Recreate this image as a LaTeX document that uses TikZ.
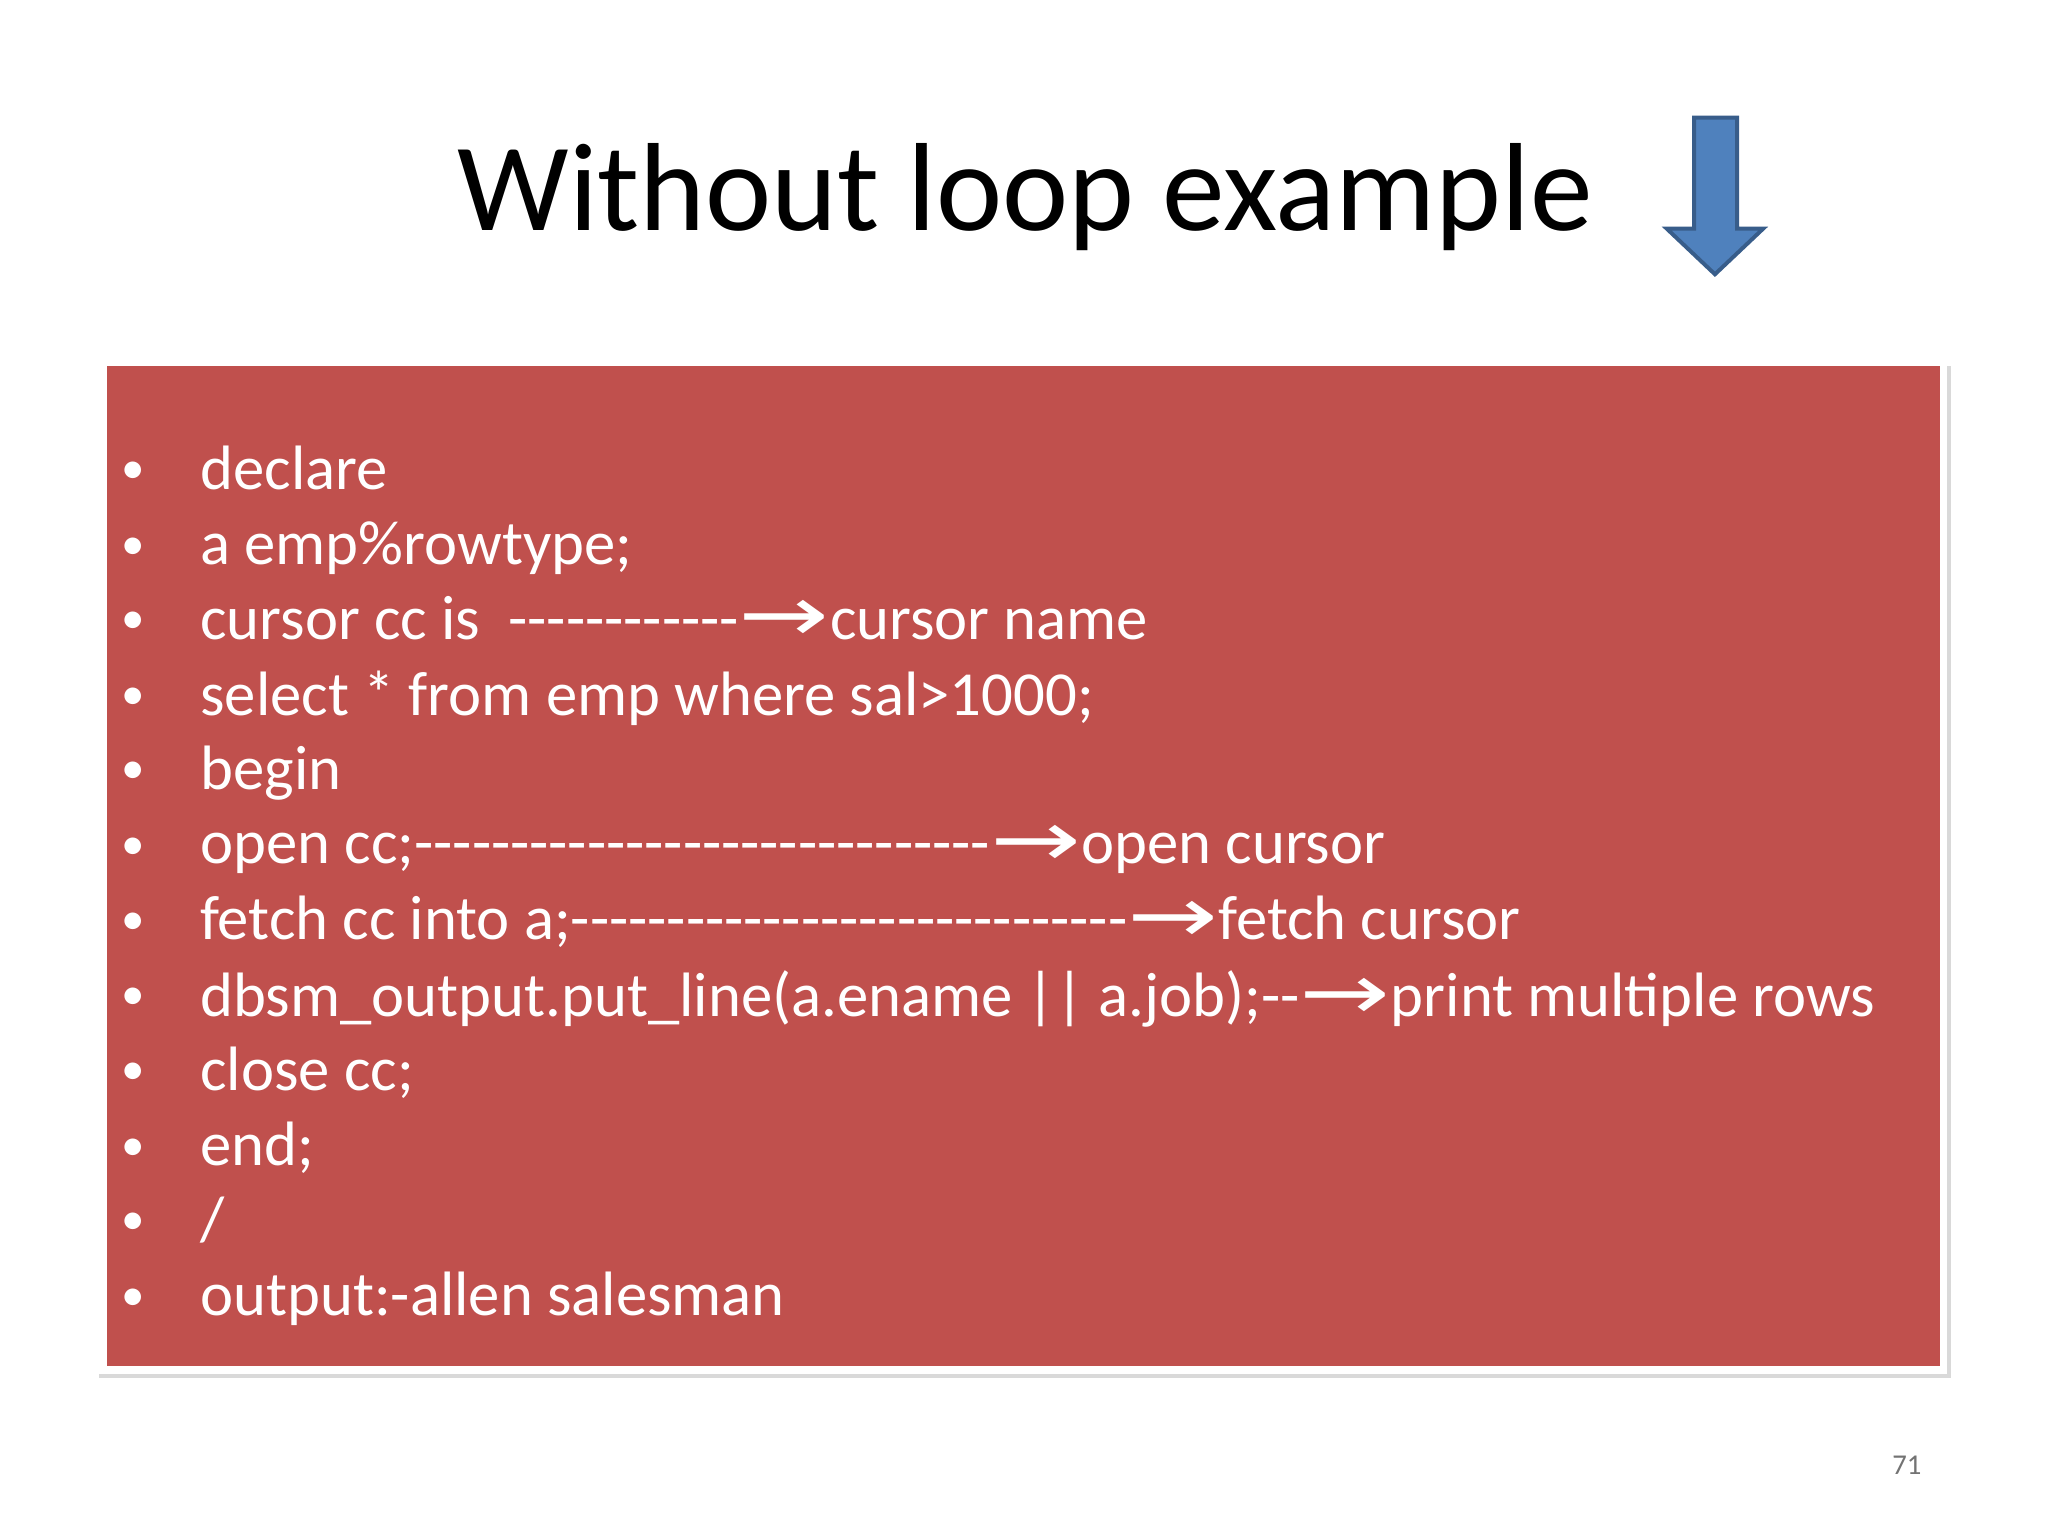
\documentclass[tikz,border=0pt]{standalone}
\usepackage{fontspec}
\usepackage{graphicx}
\newfontfamily\carl{Carlito}
\newfontfamily\symf{DejaVu Sans}
\newcommand{\arr}{{\symf\fontsize{26}{28}\selectfont\raisebox{-1pt}{\scalebox{1.6}[1.15]{→}}}}
\begin{document}
\begin{tikzpicture}[x=0.5pt,y=-0.5pt,
  line/.style={anchor=west,text=white,font=\carl\fontsize{24}{28}\selectfont,inner sep=0pt},
  bul/.style={anchor=center,text=white,font=\carl\fontsize{18}{20}\selectfont,inner sep=0pt}]
\definecolor{boxred}{HTML}{C0504D}
\definecolor{arrblue}{HTML}{4F81BD}
\definecolor{arrdark}{HTML}{385D8A}
\useasboundingbox (0,0) rectangle (1568,1176);
\fill[white] (0,0) rectangle (1568,1176);
\node[font=\carl\fontsize{48}{56}\selectfont] (title) at (785,151) {Without loop example};
\draw[fill=arrblue,draw=arrdark,line width=1.5pt] (1297,90) -- (1330,90) -- (1330,175) -- (1350,175) -- (1313,210) -- (1276,175) -- (1297,175) -- cycle;
\fill[black!15] (76,280) rectangle (1494,1055);
\draw[white,line width=3pt,fill=boxred] (79,277) rectangle (1488,1049);
\foreach \y/\t [count=\i] in {
362/declare,
420/a emp\%rowtype;,
477/{cursor cc is\ \ ------------\arr cursor name},
535/select * from emp where sal>1000;,
592/begin,
650/{open cc;------------------------------\arr open cursor},
707/{fetch cc into a;-----------------------------\arr fetch cursor},
765/{dbsm\_output.put\_line(a.ename || a.job);--\arr print multiple rows},
822/close cc;,
880/end;,
937/{/},
995/output:-allen salesman}{
  \node[bul] (b\i) at (102,\y) {•};
  \node[line] (l\i) at (153,\y) {\t\vphantom{Ag}};
}
\node[text=black!55,font=\carl\fontsize{11}{12}\selectfont] (pg) at (1460,1122) {71};
\end{tikzpicture}
\end{document}
